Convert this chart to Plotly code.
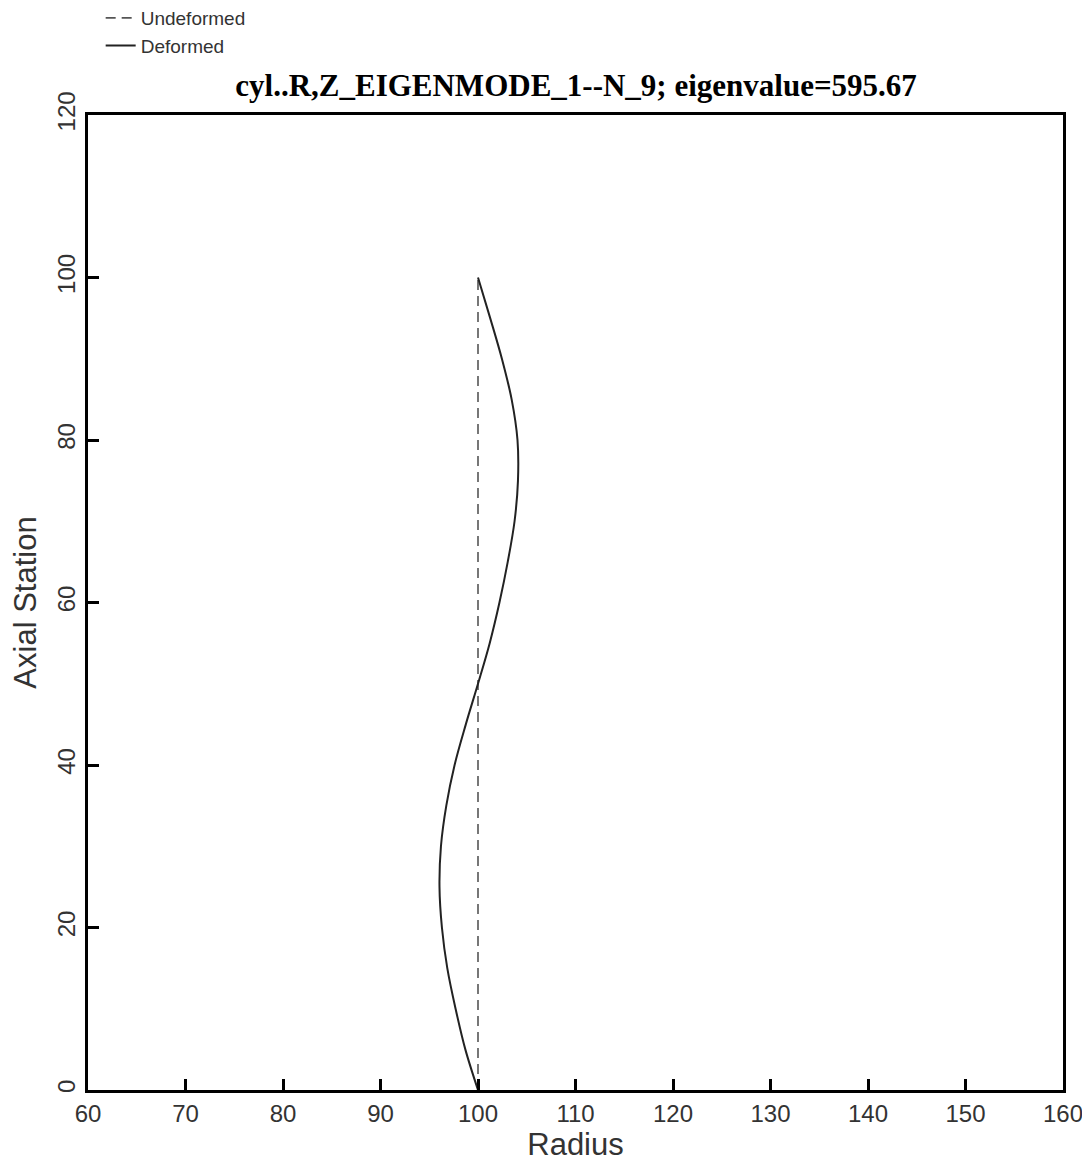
import plotly.graph_objects as go

# undeformed station line
undeformed_radius = [100.0, 100.0]
undeformed_station = [0.0, 100.0]

# deformed mode shape
deformed_station = [0, 5, 10, 15, 20, 25, 30, 35, 40, 45, 50,
                    55, 60, 65, 70, 75, 80, 85, 90, 95, 100]
deformed_radius = [100.0, 98.7, 97.7, 96.85, 96.3, 96.05, 96.2, 96.75, 97.6, 98.75, 100.0,
                   101.2, 102.2, 103.05, 103.75, 104.1, 104.05, 103.45, 102.45, 101.25, 100.0]

x_ticks = [60, 70, 80, 90, 100, 110, 120, 130, 140, 150, 160]
y_ticks = [0, 20, 40, 60, 80, 100, 120]

title_text = "cyl..R,Z_EIGENMODE_1--N_9; eigenvalue=595.67"

fig = go.Figure()

fig.add_trace(go.Scatter(
   x=undeformed_radius, y=undeformed_station, mode="lines",
   name="Undeformed", legendgroup="a",
   line=dict(color="#555555", width=1.6, dash="10px,6px"),
))
fig.add_trace(go.Scatter(
   x=deformed_radius, y=deformed_station, mode="lines",
   name="Deformed", legendgroup="b",
   line=dict(color="#222222", width=2, shape="spline", smoothing=1),
))

axis_common = dict(
   showline=True, linecolor="black", linewidth=3, mirror=True,
   ticks="inside", ticklen=11, tickwidth=3, tickcolor="black",
   showgrid=False, zeroline=False,
   tickfont=dict(family="Liberation Sans, Arial", size=24, color="#333333"),
   title_font=dict(family="Liberation Sans, Arial", size=31, color="#333333"),
)

fig.update_xaxes(
   range=[60, 160], tickvals=x_ticks, title_text="Radius",
   title_standoff=6, **axis_common
)
fig.update_yaxes(
   range=[0, 120], tickvals=y_ticks, title_text="Axial Station",
   tickangle=-90, title_standoff=10, **axis_common
)

# the page body adds an 8px offset, so the figure is 8px smaller than the window
fig.update_layout(
   width=1082, height=1156,
   margin=dict(l=80, r=27, t=107, b=74, autoexpand=False),
   paper_bgcolor="white", plot_bgcolor="white",
   title=dict(
      text=f"<b>{title_text}</b>", x=0.525, xanchor="center",
      y=0.9334, yanchor="middle", yref="container",
      font=dict(family="Liberation Serif, Times New Roman", size=31, color="black"),
   ),
   legend=dict(
      x=0.013, xanchor="left", y=1.119, yanchor="top",
      font=dict(family="Liberation Sans, Arial", size=19, color="#333333"),
      bgcolor="rgba(0,0,0,0)", tracegroupgap=0,
   ),
   shapes=[dict(
      type="line", xref="paper", yref="paper",
      x0=1.0226, x1=1.0226, y0=1.108, y1=-0.08,
      line=dict(color="#bbbbbb", width=3),
   )],
)

fig.write_html("out.html")
